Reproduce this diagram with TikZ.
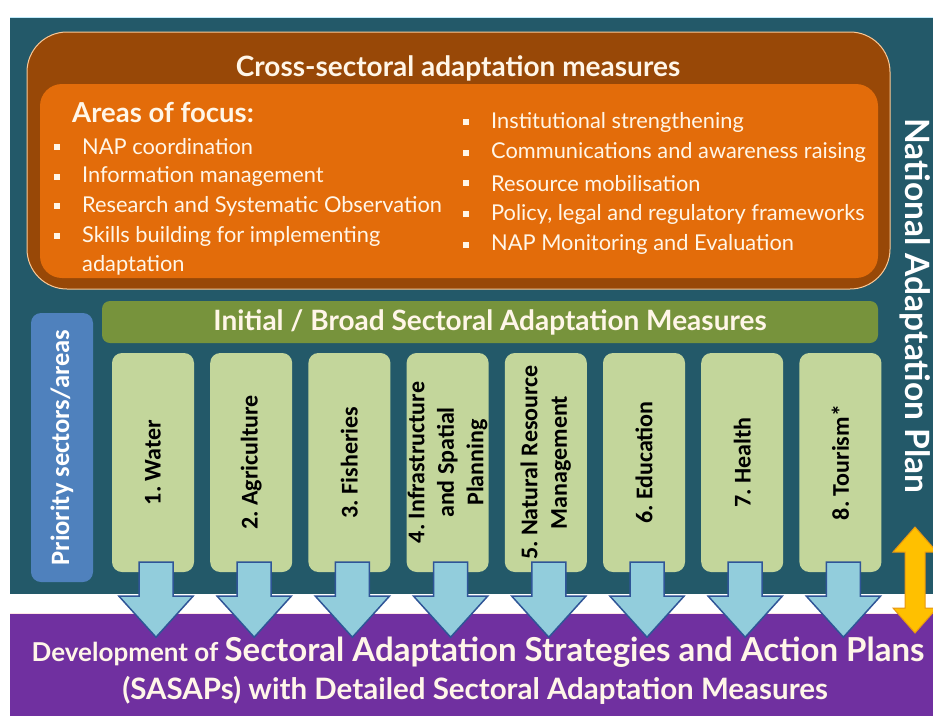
\documentclass[tikz,border=0pt]{standalone}
\usepackage{fontspec}
\setmainfont{Lato}
\newfontfamily\calfont{Carlito}
\usetikzlibrary{positioning}

\definecolor{napteal}{RGB}{35,89,105}
\definecolor{crossdark}{RGB}{152,72,7}
\definecolor{crossedge}{RGB}{250,200,150}
\definecolor{focusorange}{RGB}{227,108,10}
\definecolor{textcream}{RGB}{255,246,232}
\definecolor{broadgreen}{RGB}{119,147,60}
\definecolor{sectorgreen}{RGB}{195,214,155}
\definecolor{priorityblue}{RGB}{79,129,189}
\definecolor{arrowblue}{RGB}{146,205,220}
\definecolor{arrowedge}{RGB}{47,85,151}
\definecolor{sasappurple}{RGB}{112,48,160}
\definecolor{napyellow}{RGB}{255,192,0}
\definecolor{napyellowedge}{RGB}{230,150,20}

\begin{document}
\frenchspacing
\begin{tikzpicture}[x=1pt,y=-1pt,
  sector/.style={fill=sectorgreen,rounded corners=10pt,minimum width=82pt,minimum height=219pt},
  sectorlab/.style={rotate=90,align=center,font=\calfont\bfseries\fontsize{24}{29.5}\selectfont},
  bul/.style={fill=textcream,minimum size=6pt,inner sep=0pt},
  item/.style={anchor=west,text=textcream,inner sep=0pt,font=\fontsize{21.8}{29}\selectfont},
  blockarrow/.style={draw=arrowedge,fill=arrowblue,line width=1.5pt,line join=miter},
]
\useasboundingbox (0,0) rectangle (933,716);

% background panels
\fill[napteal] (10,17) rectangle (933,594);
\draw[cyan!25,line width=1pt] (10,17.5) -- (933,17.5);
\fill[sasappurple] (10,613) rectangle (933,716);
\draw[pink!40,line width=1pt] (10,613.5) -- (933,613.5);

% cross-sectoral measures
\node[draw=crossedge,line width=1pt,fill=crossdark,rounded corners=40pt,minimum width=863pt,minimum height=257pt] (cross) at (458.5,160.5) {};
\node[text=textcream,font=\bfseries\fontsize{28}{32}\selectfont] (crosstitle) at (458,68) {Cross-sectoral adaptation measures};
\node[fill=focusorange,rounded corners=22pt,minimum width=838pt,minimum height=194pt] (focus) at (459,181) {};
\node[text=textcream,anchor=west,inner sep=0pt,font=\bfseries\fontsize{27.5}{30}\selectfont] (areas) at (72,112) {Areas of focus:};

\foreach \t [count=\i] in {NAP coordination,Information management,Research and Systematic Observation,Skills building for implementing}
{
  \node[bul] (lb\i) at (57,{147+(\i-1)*29.7}) {};
  \node[item] (li\i) at (82,{147+(\i-1)*29.7}) {\t};
}
\node[item] (li5) at (82,265) {adaptation};

\foreach \t [count=\i] in {Institutional strengthening,Communications and awareness raising,Resource mobilisation,{Policy, legal and regulatory frameworks},NAP Monitoring and Evaluation}
{
  \node[bul] (rb\i) at (466,{122+(\i-1)*30.7}) {};
  \node[item] (ri\i) at (491,{122+(\i-1)*30.7}) {\t};
}

% priority sectors
\node[fill=priorityblue,rounded corners=10pt,minimum width=62pt,minimum height=269pt] (prio) at (62,447.5) {};
\node[rotate=90,text=white,font=\calfont\bfseries\fontsize{26.5}{30}\selectfont] (priolab) at (prio) {Priority sectors/areas};

\node[fill=broadgreen,rounded corners=8pt,minimum width=776pt,minimum height=42pt] (broad) at (490,322) {};
\node[text=textcream,font=\bfseries\fontsize{28}{30}\selectfont] (broadlab) at (broad) {Initial / Broad Sectoral Adaptation Measures};

\foreach \lab [count=\i] in {{1. Water},{2. Agriculture},{3. Fisheries},{4. Infrastructure\\and Spatial\\Planning},{5. Natural Resource\\Management},{6. Education},{7. Health},{8. Tourism*}}
{
  \node[sector] (s\i) at ({153+(\i-1)*98.2},462.5) {};
  \node[sectorlab] (t\i) at (s\i) {\lab};
}

% arrows down to SASAPs
\foreach \i in {1,...,8}
  \draw[blockarrow] (s\i.south) ++(-14,-10) -- ++(0,34) -- ++(-20,0) -- ++(37,41) -- ++(37,-41) -- ++(-20,0) -- ++(0,-34) -- cycle;

% national adaptation plan
\node[rotate=-90,text=white,font=\bfseries\fontsize{33.5}{36}\selectfont] (nap) at (915,306) {National Adaptation Plan};
\coordinate (naptip) at (915,527);
\draw[fill=napyellow,draw=napyellowedge,line width=1pt] (naptip) -- ++(22,25) -- ++(-12,0) -- ++(0,56) -- ++(12,0) -- ++(-22,25) -- ++(-22,-25) -- ++(12,0) -- ++(0,-56) -- ++(-12,0) -- cycle;

% SASAPs band
\node[text=textcream,font=\bfseries] (dev) at (478,652) {{\fontsize{26}{30}\selectfont Development of }{\fontsize{33}{36}\selectfont Sectoral Adaptation Strategies and Action Plans}};
\node[text=textcream,font=\bfseries\fontsize{29.5}{32}\selectfont] (sasaps) at (475,690) {(SASAPs) with Detailed Sectoral Adaptation Measures};

\end{tikzpicture}
\end{document}
